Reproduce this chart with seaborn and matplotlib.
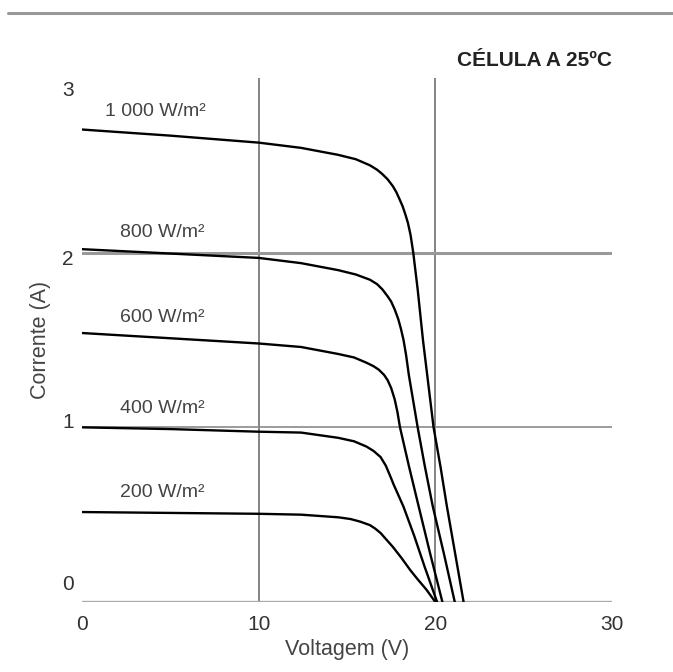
import pandas as pd
import seaborn as sns
import matplotlib.pyplot as plt
import matplotlib.transforms as mtransforms
from matplotlib.lines import Line2D

sns.set_style('white')
plt.rcParams['font.family'] = ['Liberation Sans', 'DejaVu Sans']

# I-V curves (voltage in V, current in A)
v_1000 = [0, 5, 10, 12.4, 14.5, 15.5, 16.3, 16.7, 17.0, 17.3, 17.6, 17.8, 18.0, 18.15, 18.3, 18.45, 18.6,
          18.75, 19.0, 19.3, 19.6, 19.9, 20.3, 20.65, 21.1, 21.6]
i_1000 = [2.705, 2.67, 2.63, 2.60, 2.56, 2.535, 2.50, 2.475, 2.45, 2.42, 2.38, 2.345, 2.30, 2.265, 2.22, 2.17, 2.10,
          2.0, 1.79, 1.50, 1.25, 1.0, 0.77, 0.55, 0.29, 0.0]

v_800 = [0, 5, 10, 12.4, 14.5, 15.5, 16.3, 16.7, 17.0, 17.3, 17.5, 17.7, 17.9, 18.05, 18.2, 18.35, 18.5,
         18.75, 19.0, 19.4, 19.85, 20.5, 21.1]
i_800 = [2.02, 1.995, 1.97, 1.94, 1.90, 1.875, 1.845, 1.82, 1.79, 1.75, 1.72, 1.675, 1.62, 1.565, 1.50, 1.41, 1.30,
         1.15, 1.0, 0.78, 0.55, 0.27, 0.0]

v_600 = [0, 5, 10, 12.4, 14.5, 15.4, 16.1, 16.5, 16.8, 17.1, 17.3, 17.5, 17.7, 17.85, 18.0, 18.5, 19.05, 19.7, 20.4]
i_600 = [1.54, 1.51, 1.48, 1.46, 1.42, 1.40, 1.37, 1.35, 1.33, 1.30, 1.27, 1.225, 1.16, 1.09, 1.0, 0.78, 0.55, 0.28, 0.0]

v_400 = [0, 5, 10, 12.4, 14.5, 15.4, 16.1, 16.5, 16.9, 17.2, 17.45, 17.65, 17.85, 18.2, 18.8, 19.4, 20.1]
i_400 = [1.0, 0.99, 0.975, 0.97, 0.94, 0.92, 0.89, 0.865, 0.83, 0.78, 0.72, 0.67, 0.625, 0.545, 0.38, 0.2, 0.0]

v_200 = [0, 5, 10, 12.4, 14.5, 15.2, 15.75, 16.3, 16.6, 16.9, 17.25, 17.6, 18.1, 18.6, 19.0, 19.5, 20.0]
i_200 = [0.515, 0.51, 0.505, 0.50, 0.485, 0.475, 0.46, 0.44, 0.42, 0.395, 0.355, 0.315, 0.25, 0.18, 0.13, 0.07, 0.0]

series = ['1 000 W/m²', '800 W/m²', '600 W/m²', '400 W/m²', '200 W/m²']
# label anchor (V, A) for each curve name
label_v = [1.3, 2.15, 2.15, 2.15, 2.15]
label_i = [2.81, 2.115, 1.63, 1.11, 0.625]

x_ticks = [0, 10, 20, 30]
y_ticks = [0, 1, 2, 3]

frames = []
for name, v, i in zip(series,
                      [v_1000, v_800, v_600, v_400, v_200],
                      [i_1000, i_800, i_600, i_400, i_200]):
    frames.append(pd.DataFrame({'V': v, 'I': i, 'curve': name}))
df = pd.concat(frames, ignore_index=True)

fig = plt.figure(figsize=(6.73, 6.72), dpi=100)
ax = fig.add_axes([82 / 673, 70 / 672, 530 / 673, 524 / 672])

# grid lines
ax.axvline(10, color='#707070', lw=1.2, zorder=1)
ax.axvline(20, color='#707070', lw=1.2, zorder=1)
ax.axhline(2, color='#999999', lw=2.2, zorder=1)
ax.axhline(1, color='#8a8a8a', lw=1.2, zorder=1)
ax.axhline(0, color='#aaaaaa', lw=2.4, zorder=1)

sns.lineplot(data=df, x='V', y='I', hue='curve', sort=False, estimator=None,
             palette=['black'] * len(series), lw=1.7, legend=False, ax=ax, zorder=3)
for ln in ax.get_lines():
    ln.set_solid_joinstyle('round')

for name, lv, li in zip(series, label_v, label_i):
    ax.text(lv, li, name, fontsize=14, color='#444444', va='center', ha='left')

ax.set_xlim(0, 30)
ax.set_ylim(0, 3)
sns.despine(ax=ax, left=True, bottom=True, top=True, right=True)
ax.set_xticks(x_ticks)
ax.set_yticks(y_ticks)
ax.tick_params(length=0, labelsize=15, labelcolor='#333333')
ax.tick_params(axis='x', pad=9)
ax.tick_params(axis='y', pad=6)

# nudge y tick labels like the original
y_shift = [19, 7, -5, -10]
for lab, dy in zip(ax.get_yticklabels(), y_shift):
    lab.set_transform(lab.get_transform() + mtransforms.ScaledTranslation(0, dy / 100, fig.dpi_scale_trans))

ax.set_xlabel('Voltagem (V)', fontsize=15.5, color='#444444', labelpad=4)
ax.set_ylabel('Corrente (A)', fontsize=15.5, color='#444444', labelpad=8)

fig.text(612 / 673, 1 - 60 / 672, 'CÉLULA A 25ºC', fontsize=15, fontweight='bold',
         color='#222222', ha='right', va='center')
fig.add_artist(Line2D([8 / 673, 1], [1 - 13 / 672, 1 - 13 / 672], color='#999999', lw=2.2))

fig.savefig('out.png', dpi=100)
